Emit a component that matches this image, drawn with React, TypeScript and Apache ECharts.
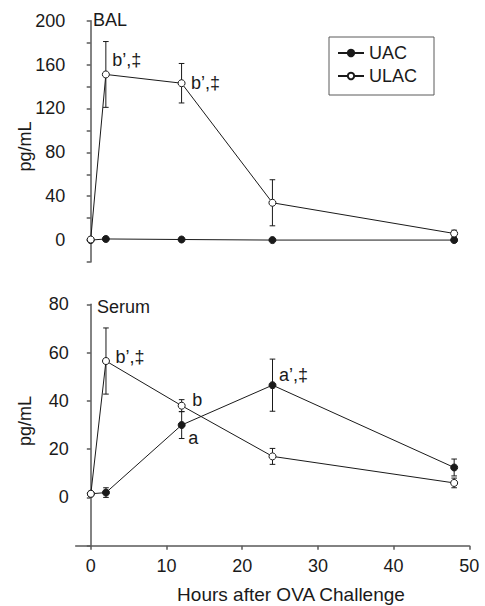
import React, { useEffect, useRef } from "react";
import * as echarts from "echarts";

const hours = [0, 2, 12, 24, 48];
const xTicks = [0, 10, 20, 30, 40, 50];

const balUAC = [0, 1, 0.5, 0, 0];
const balUACErr = [0, 0, 0, 0, 0];
const balULAC = [0.5, 151, 143, 34, 6];
const balULACErr = [0, 30, 18, 21, 3];

const serumUAC = [1.5, 2, 30, 46.5, 12.4];
const serumUACErr = [0, 2, 5.6, 10.8, 3.5];
const serumULAC = [1.5, 56.5, 38, 17, 6];
const serumULACErr = [0, 13.7, 2.5, 3.3, 2];

const balULACNotes = ["", "b\u2019,\u2021", "b\u2019,\u2021", "", ""];
const serumUACNotes = ["", "", "a", "a\u2019,\u2021", ""];
const serumULACNotes = ["", "b\u2019,\u2021", "b", "", ""];

// label offsets (style only)
const noteOffsets: Record<string, number[][]> = {
  balULAC: [[0, 0], [7, -14], [10, 0], [0, 0], [0, 0]],
  serumUAC: [[0, 0], [0, 0], [7, 13], [7, -10], [0, 0]],
  serumULAC: [[0, 0], [10, -4], [11, -5], [0, 0], [0, 0]],
};

const FONT = "'Liberation Sans', Arial, Helvetica, sans-serif";
const FS = 18;
const TXT = "#1a1a1a";
const AX = "#5a5a5a";
const LINE = "#1a1a1a";

function pts(vals: number[], notes?: string[], offKey?: string) {
  return hours.map((h, i) => {
    const item: any = { value: [h, vals[i]] };
    if (notes && notes[i]) {
      const o = noteOffsets[offKey as string][i];
      item.label = {
        show: true,
        formatter: notes[i],
        position: [o[0] + 3.5, o[1] + 3.5],
        align: "left",
        verticalAlign: "middle",
        fontSize: FS,
        fontFamily: FONT,
        color: TXT,
      };
    }
    return item;
  });
}

function errData(vals: number[], errs: number[]) {
  return hours
    .map((h, i) => [h, vals[i], errs[i]])
    .filter((d) => d[2] > 0);
}

function errSeries(idx: number, vals: number[], errs: number[]) {
  return {
    type: "custom",
    xAxisIndex: idx,
    yAxisIndex: idx,
    z: 1,
    silent: true,
    data: errData(vals, errs),
    renderItem: (params: any, api: any) => {
      const x = api.value(0);
      const y = api.value(1);
      const e = api.value(2);
      const t = api.coord([x, y + e]);
      const b = api.coord([x, y - e]);
      const hw = 2.8;
      const st = { stroke: LINE, lineWidth: 1 };
      return {
        type: "group",
        children: [
          { type: "line", shape: { x1: t[0], y1: t[1], x2: b[0], y2: b[1] }, style: st },
          { type: "line", shape: { x1: t[0] - hw, y1: t[1], x2: t[0] + hw, y2: t[1] }, style: st },
          { type: "line", shape: { x1: b[0] - hw, y1: b[1], x2: b[0] + hw, y2: b[1] }, style: st },
        ],
      };
    },
  };
}

function lineSeries(name: string, idx: number, data: any[], filled: boolean, z: number) {
  return {
    name,
    type: "line",
    xAxisIndex: idx,
    yAxisIndex: idx,
    data,
    z,
    symbol: "circle",
    symbolSize: 7,
    showSymbol: true,
    lineStyle: { color: LINE, width: 1 },
    itemStyle: filled
      ? { color: LINE, borderColor: LINE, borderWidth: 1 }
      : { color: "#ffffff", borderColor: LINE, borderWidth: 1 },
    emphasis: { disabled: true },
  };
}

const yAxisCommon = (min: number, max: number, labelEvery: number) => ({
  type: "value",
  min,
  max,
  interval: 20,
  splitLine: { show: false },
  axisLine: { show: true, lineStyle: { color: AX, width: 1.5 } },
  axisTick: { show: true, length: 4, lineStyle: { color: AX, width: 1.5 } },
  axisLabel: {
    fontSize: FS,
    fontFamily: FONT,
    color: TXT,
    margin: 7,
    formatter: (v: number) => (v >= 0 && v % labelEvery === 0 ? String(v) : ""),
  },
});

export default function App() {
  const ref = useRef<HTMLDivElement>(null);
  useEffect(() => {
    if (!ref.current) return;
    const chart = echarts.init(ref.current, null, { renderer: "svg" });
    chart.setOption({
      animation: false,
      backgroundColor: "#ffffff",
      textStyle: { fontFamily: FONT },
      grid: [
        { left: 72.3, top: 20.7, width: 397, height: 241.3 },
        { left: 75.7, top: 304.3, width: 393.6, height: 241.4 },
      ],
      xAxis: [
        { type: "value", gridIndex: 0, min: -2.43, max: 50, show: false },
        {
          type: "value",
          gridIndex: 1,
          min: -2,
          max: 50,
          splitLine: { show: false },
          axisLine: { show: true, onZero: false, lineStyle: { color: AX, width: 1.5 } },
          axisTick: {
            show: true,
            inside: false,
            length: 4,
            customValues: xTicks,
            lineStyle: { color: AX, width: 1.5 },
          },
          axisLabel: {
            customValues: xTicks,
            fontSize: FS,
            fontFamily: FONT,
            color: TXT,
            margin: 11,
          },
        },
      ],
      yAxis: [
        { ...yAxisCommon(-20, 200, 40), gridIndex: 0 },
        { ...yAxisCommon(-20, 80, 20), gridIndex: 1 },
      ],
      legend: {
        data: ["UAC", "ULAC"],
        orient: "vertical",
        left: 329,
        top: 37,
        padding: [6, 17, 9, 8],
        itemGap: 3,
        itemWidth: 26,
        itemHeight: 8,
        borderColor: AX,
        borderWidth: 1,
        borderRadius: 0,
        selectedMode: false,
        textStyle: { fontSize: FS, fontFamily: FONT, color: TXT, lineHeight: 20 },
      },
      graphic: [
        { type: "text", x: 93, y: 19.5, style: { text: "BAL", fontSize: FS, fontFamily: FONT, fill: TXT, verticalAlign: "middle" } },
        { type: "text", x: 97, y: 307, style: { text: "Serum", fontSize: FS, fontFamily: FONT, fill: TXT, verticalAlign: "middle" } },
        {
          type: "text",
          x: 25,
          y: 146.5,
          rotation: Math.PI / 2,
          style: { text: "pg/mL", fontSize: FS, fontFamily: FONT, fill: TXT, align: "center", verticalAlign: "middle" },
        },
        {
          type: "text",
          x: 25,
          y: 421,
          rotation: Math.PI / 2,
          style: { text: "pg/mL", fontSize: FS, fontFamily: FONT, fill: TXT, align: "center", verticalAlign: "middle" },
        },
        {
          type: "text",
          x: 291,
          y: 594,
          style: { text: "Hours after OVA Challenge", fontSize: 19, fontFamily: FONT, fill: TXT, align: "center", verticalAlign: "middle" },
        },
      ],
      series: [
        errSeries(0, balUAC, balUACErr),
        errSeries(0, balULAC, balULACErr),
        errSeries(1, serumUAC, serumUACErr),
        errSeries(1, serumULAC, serumULACErr),
        lineSeries("UAC", 0, pts(balUAC), true, 2),
        lineSeries("ULAC", 0, pts(balULAC, balULACNotes, "balULAC"), false, 3),
        lineSeries("UAC", 1, pts(serumUAC, serumUACNotes, "serumUAC"), true, 2),
        lineSeries("ULAC", 1, pts(serumULAC, serumULACNotes, "serumULAC"), false, 3),
      ],
    });
    return () => chart.dispose();
  }, []);
  return (
    <div
      ref={ref}
      style={{ position: "absolute", left: 0, top: 0, width: 485, height: 606 }}
    />
  );
}
